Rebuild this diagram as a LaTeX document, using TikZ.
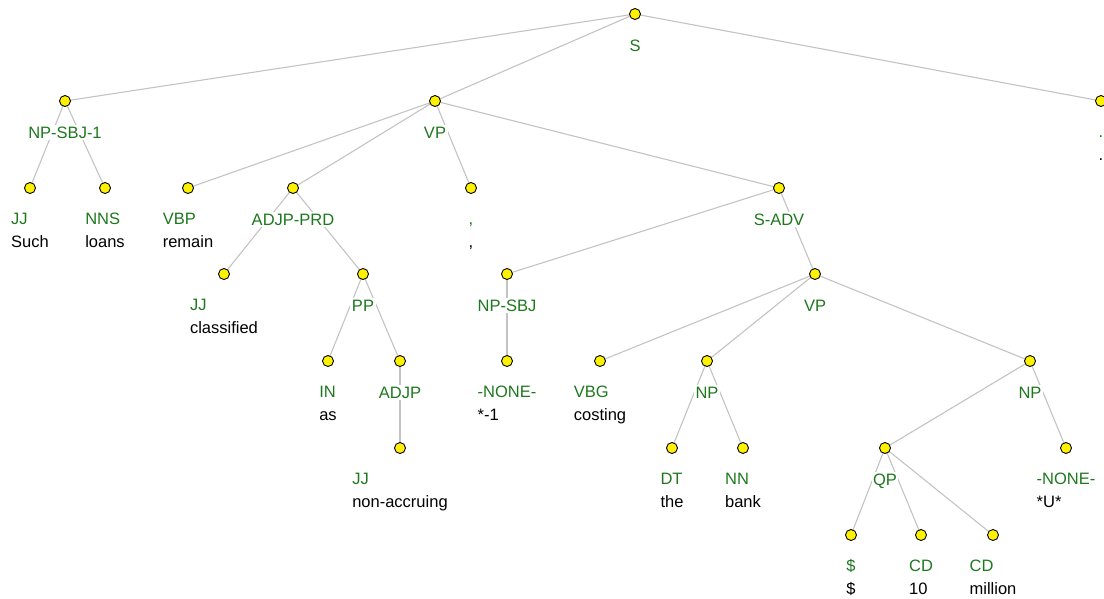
\documentclass[tikz,border=0pt]{standalone}
\usepackage{fontspec}
\setmainfont{Liberation Sans}
\usepackage{tikz}
\usetikzlibrary{calc,backgrounds}
\definecolor{tagg}{RGB}{30,120,30}
\definecolor{edgeg}{RGB}{195,195,195}
\tikzset{
  dot/.style={circle,draw=black,fill=yellow,line width=0.9pt,minimum size=11pt,inner sep=0pt},
  phr/.style={font=\fontsize{16.5}{23}\selectfont,text=tagg,fill=white,inner sep=1.5pt,anchor=base},
  leaf/.style={font=\fontsize{16.5}{23}\selectfont,inner sep=0pt,anchor=base},
  edge/.style={draw=edgeg,line width=1.1pt}
}
\newcommand\leafbox[2]{\begin{tabular}[t]{@{}l@{}}\color{tagg}#1\\{}#2\end{tabular}}

\begin{document}
\begin{tikzpicture}[x=1pt,y=-1pt]
  \useasboundingbox (0,0) rectangle (1104,598);

  % phrase nodes
  \node[dot] (s) at (635,14) {};
  \node[phr] (s-l) at ($(s)+(0,37)$) {S};
  \node[dot] (npsbj1) at (65,101) {};
  \node[phr] (npsbj1-l) at ($(npsbj1)+(0,37)$) {NP-SBJ-1};
  \node[dot] (vp) at (435,101) {};
  \node[phr] (vp-l) at ($(vp)+(0,37)$) {VP};
  \node[dot] (adjpprd) at (293,188) {};
  \node[phr] (adjpprd-l) at ($(adjpprd)+(0,37)$) {ADJP-PRD};
  \node[dot] (sadv) at (779,188) {};
  \node[phr] (sadv-l) at ($(sadv)+(0,37)$) {S-ADV};
  \node[dot] (pp) at (363,274) {};
  \node[phr] (pp-l) at ($(pp)+(0,37)$) {PP};
  \node[dot] (npsbj) at (507,274) {};
  \node[phr] (npsbj-l) at ($(npsbj)+(0,37)$) {NP-SBJ};
  \node[dot] (vp2) at (815,274) {};
  \node[phr] (vp2-l) at ($(vp2)+(0,37)$) {VP};
  \node[dot] (adjp) at (400,361) {};
  \node[phr] (adjp-l) at ($(adjp)+(0,37)$) {ADJP};
  \node[dot] (np) at (707,361) {};
  \node[phr] (np-l) at ($(np)+(0,37)$) {NP};
  \node[dot] (np2) at (1030,361) {};
  \node[phr] (np2-l) at ($(np2)+(0,37)$) {NP};
  \node[dot] (qp) at (885,448) {};
  \node[phr] (qp-l) at ($(qp)+(0,37)$) {QP};

  % leaves
  \node[dot] (jj1) at (30,188) {};
  \node[leaf] (jj1-l) at ($(jj1)+(0,36)$) {\leafbox{JJ}{Such}};
  \node[dot] (nns) at (105,188) {};
  \node[leaf] (nns-l) at ($(nns)+(0,36)$) {\leafbox{NNS}{loans}};
  \node[dot] (vbp) at (188,188) {};
  \node[leaf] (vbp-l) at ($(vbp)+(0,36)$) {\leafbox{VBP}{remain}};
  \node[dot] (comma) at (471,188) {};
  \node[leaf] (comma-l) at ($(comma)+(0,36)$) {\leafbox{,}{,}};
  \node[dot] (period) at (1101,101) {};
  \node[leaf] (period-l) at ($(period)+(0,36)$) {\leafbox{.}{.}};
  \node[dot] (jj2) at (224,274) {};
  \node[leaf] (jj2-l) at ($(jj2)+(0,36)$) {\leafbox{JJ}{classified}};
  \node[dot] (in) at (328,361) {};
  \node[leaf] (in-l) at ($(in)+(0,36)$) {\leafbox{IN}{as}};
  \node[dot] (none1) at (507,361) {};
  \node[leaf] (none1-l) at ($(none1)+(0,36)$) {\leafbox{-NONE-}{*-1}};
  \node[dot] (vbg) at (600,361) {};
  \node[leaf] (vbg-l) at ($(vbg)+(0,36)$) {\leafbox{VBG}{costing}};
  \node[dot] (jj3) at (400,448) {};
  \node[leaf] (jj3-l) at ($(jj3)+(0,36)$) {\leafbox{JJ}{non-accruing}};
  \node[dot] (dt) at (672,448) {};
  \node[leaf] (dt-l) at ($(dt)+(0,36)$) {\leafbox{DT}{the}};
  \node[dot] (nn) at (743,448) {};
  \node[leaf] (nn-l) at ($(nn)+(0,36)$) {\leafbox{NN}{bank}};
  \node[dot] (none2) at (1066,448) {};
  \node[leaf] (none2-l) at ($(none2)+(0,36)$) {\leafbox{-NONE-}{*U*}};
  \node[dot] (dollar) at (851,535) {};
  \node[leaf] (dollar-l) at ($(dollar)+(0,36)$) {\leafbox{\$}{\$}};
  \node[dot] (cd1) at (921,535) {};
  \node[leaf] (cd1-l) at ($(cd1)+(0,36)$) {\leafbox{CD}{10}};
  \node[dot] (cd2) at (993,535) {};
  \node[leaf] (cd2-l) at ($(cd2)+(0,36)$) {\leafbox{CD}{million}};

  % edges, behind labels
  \begin{scope}[on background layer]
    \draw[edge] (s.center)--(npsbj1.center) (s.center)--(vp.center) (s.center)--(period.center);
    \draw[edge] (npsbj1.center)--(jj1.center) (npsbj1.center)--(nns.center);
    \draw[edge] (vp.center)--(vbp.center) (vp.center)--(adjpprd.center)
                (vp.center)--(comma.center) (vp.center)--(sadv.center);
    \draw[edge] (adjpprd.center)--(jj2.center) (adjpprd.center)--(pp.center);
    \draw[edge] (pp.center)--(in.center) (pp.center)--(adjp.center);
    \draw[edge] (adjp.center)--(jj3.center);
    \draw[edge] (sadv.center)--(npsbj.center) (sadv.center)--(vp2.center);
    \draw[edge] (npsbj.center)--(none1.center);
    \draw[edge] (vp2.center)--(vbg.center) (vp2.center)--(np.center) (vp2.center)--(np2.center);
    \draw[edge] (np.center)--(dt.center) (np.center)--(nn.center);
    \draw[edge] (np2.center)--(qp.center) (np2.center)--(none2.center);
    \draw[edge] (qp.center)--(dollar.center) (qp.center)--(cd1.center) (qp.center)--(cd2.center);
  \end{scope}
\end{tikzpicture}
\end{document}
